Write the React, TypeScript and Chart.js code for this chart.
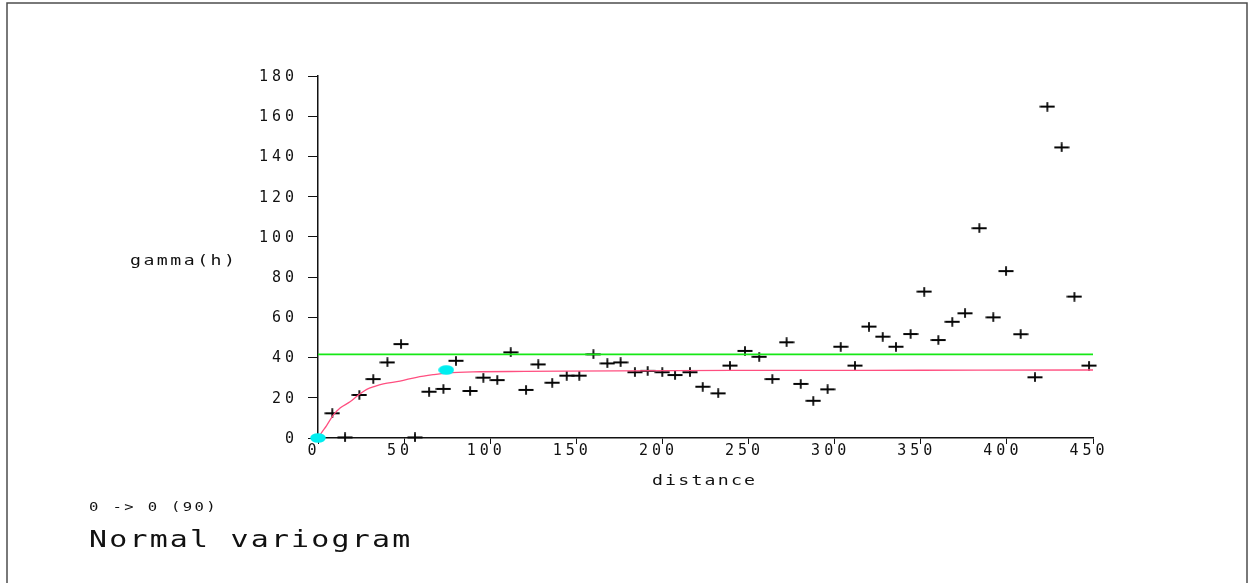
import { useEffect, useRef } from "react";
import { Chart, registerables } from "chart.js";

Chart.register(...registerables);

// Experimental variogram: lag distance and semivariance per lag
const lagDistance = [
  8.3, 15.7, 24.0, 32.1, 40.3, 48.2, 56.3, 64.5, 72.8, 80.1, 88.3, 96.0, 104.1, 111.9,
  120.8, 127.9, 136.0, 144.4, 151.7, 159.9, 168.0, 175.7, 184.0, 191.4, 199.9, 207.3, 216.0, 223.4, 232.4, 239.2,
  247.9, 256.2, 263.8, 272.1, 280.3, 287.6, 295.9, 303.5, 311.8, 319.9, 327.9, 335.6, 344.1, 352.0, 360.2, 368.3,
  375.7, 384.0, 392.1, 399.5, 408.0, 416.3, 423.5, 431.8, 439.2, 447.7,
];
const gammaValues = [
  12.3, 0.3, 21.4, 29.3, 37.6, 46.7, 0.3, 23.0, 24.4, 38.4, 23.4, 30.0, 28.8, 42.6,
  23.9, 36.6, 27.5, 31.0, 31.0, 41.6, 37.1, 37.6, 32.7, 33.4, 32.7, 31.3, 32.7, 25.5, 22.2, 36.0,
  43.3, 40.4, 29.3, 47.6, 26.9, 18.5, 24.2, 45.4, 36.0, 55.4, 50.4, 45.4, 51.7, 72.8, 48.7, 57.8,
  62.0, 104.3, 60.0, 83.0, 51.6, 30.2, 164.8, 144.5, 70.3, 36.0,
];

// Fitted model curve
const modelDistance = [0, 2, 5, 8.9, 13, 18.6, 23, 28.3, 33, 37.9, 47.6, 57.3, 67, 74.7, 90, 120, 174, 250, 350, 450];
const modelGamma = [0, 2.6, 6.2, 11.4, 15.0, 18.0, 21.0, 24.2, 25.7, 26.9, 28.3, 30.2, 31.5, 32.3, 32.9, 33.1, 33.4, 33.6, 33.7, 33.8];

// Sample variance (sill reference line)
const sillDistance = [0, 450];
const sillGamma = [41.6, 41.6];

// Model control points (nugget origin and range)
const controlDistance = [0, 74.5];
const controlGamma = [0, 33.8];

// Axis ticks
const xTickValues = [0, 50, 100, 150, 200, 250, 300, 350, 400, 450];
const yTickValues = [0, 20, 40, 60, 80, 100, 120, 140, 160, 180];

const xAxisLabel = "distance";
const yAxisLabel = "gamma(h)";
const directionLabel = "0 -> 0 (90)";
const plotTitle = "Normal variogram";

const FONT = '"DejaVu Sans Mono", monospace';

function makeCross(): HTMLCanvasElement {
  const c = document.createElement("canvas");
  c.width = 16;
  c.height = 10;
  const g = c.getContext("2d")!;
  g.strokeStyle = "#050505";
  g.lineWidth = 1.8;
  g.beginPath();
  g.moveTo(0.5, 5);
  g.lineTo(15.5, 5);
  g.moveTo(8, 0.3);
  g.lineTo(8, 9.7);
  g.stroke();
  return c;
}

function makeDot(): HTMLCanvasElement {
  const c = document.createElement("canvas");
  c.width = 16;
  c.height = 10;
  const g = c.getContext("2d")!;
  g.fillStyle = "#00eef0";
  g.beginPath();
  g.ellipse(8, 5, 7.8, 4.8, 0, 0, Math.PI * 2);
  g.fill();
  return c;
}

const pairs = (xs: number[], ys: number[]) => xs.map((x, i) => ({ x, y: ys[i] }));

// Draws text in a horizontally widened face with extra tracking
function drawWide(
  ctx: CanvasRenderingContext2D,
  text: string,
  x: number,
  y: number,
  size: number,
  spacing: number,
  stretch: number,
  align: "left" | "center",
  baseline: CanvasTextBaseline
) {
  ctx.save();
  ctx.font = `${size}px ${FONT}`;
  (ctx as any).letterSpacing = `${spacing}px`;
  ctx.textAlign = "left";
  ctx.textBaseline = baseline;
  ctx.translate(x, y);
  ctx.scale(stretch, 1);
  let start = 0;
  if (align === "center") {
    const w = ctx.measureText(text).width - spacing;
    start = -w / 2;
  }
  ctx.fillText(text, start, 0);
  ctx.restore();
}

const decorPlugin = {
  id: "decor",
  beforeDraw(chart: any) {
    chart.ctx.letterSpacing = "4px";
  },
  afterDraw(chart: any) {
    const ctx = chart.ctx as CanvasRenderingContext2D;
    const w = chart.width;
    const h = chart.height;
    const area = chart.chartArea;
    ctx.save();
    // outer frame (open at the bottom)
    ctx.strokeStyle = "#4d4d4d";
    ctx.lineWidth = 1.5;
    ctx.beginPath();
    ctx.moveTo(7, h);
    ctx.lineTo(7, 3);
    ctx.lineTo(w - 2, 3);
    ctx.lineTo(w - 2, h);
    ctx.stroke();

    ctx.fillStyle = "#111";
    drawWide(ctx, xAxisLabel, (area.left + area.right) / 2 - 2, 481, 14, 1.7, 1.3, "center", "middle");
    drawWide(ctx, yAxisLabel, 130, 264.5, 14, 1.9, 1.3, "left", "alphabetic");
    drawWide(ctx, directionLabel, 89, 510.5, 12, 1.8, 1.3, "left", "alphabetic");
    drawWide(ctx, plotTitle, 89, 546.5, 23, 1.7, 1.3, "left", "alphabetic");
    ctx.restore();
  },
};

export default function App() {
  const canvasRef = useRef<HTMLCanvasElement | null>(null);

  useEffect(() => {
    if (!canvasRef.current) return;
    const cross = makeCross();
    const dot = makeDot();

    const chart = new Chart(canvasRef.current, {
      type: "scatter",
      data: {
        datasets: [
          {
            label: "experimental",
            data: pairs(lagDistance, gammaValues),
            pointStyle: cross as any,
            pointRadius: 5,
            showLine: false,
            clip: false as any,
            order: 3,
          },
          {
            label: "model",
            data: pairs(modelDistance, modelGamma),
            showLine: true,
            borderColor: "#ff4f80",
            borderWidth: 1.3,
            pointRadius: 0,
            cubicInterpolationMode: "monotone",
            order: 1,
          },
          {
            label: "sill",
            data: pairs(sillDistance, sillGamma),
            showLine: true,
            borderColor: "#16e816",
            borderWidth: 1.6,
            pointRadius: 0,
            order: 1,
          },
          {
            label: "control",
            data: pairs(controlDistance, controlGamma),
            showLine: false,
            pointStyle: dot as any,
            pointRadius: 5,
            clip: false as any,
            order: 0,
          },
        ],
      },
      options: {
        responsive: false,
        animation: false,
        events: [],
        layout: { padding: { left: 258, top: 76, right: 156, bottom: 85 } },
        plugins: { legend: { display: false }, tooltip: { enabled: false } },
        scales: {
          x: {
            type: "linear",
            min: 0,
            max: 450,
            afterBuildTicks: (s: any) => {
              s.ticks = xTickValues.map((value) => ({ value }));
            },
            afterFit: (s: any) => {
              s.height = 60;
            },
            grid: { drawOnChartArea: false, drawTicks: true, tickLength: 6, color: "#111", lineWidth: 1 },
            border: { display: true, color: "#111", width: 1.5 },
            ticks: {
              color: "#111",
              padding: 0,
              labelOffset: -4,
              maxRotation: 0,
              autoSkip: false,
              font: { family: FONT, size: 15, lineHeight: 1 },
              callback: (v: any) => String(v),
            },
            title: { display: false },
          },
          y: {
            type: "linear",
            min: 0,
            max: 180,
            afterBuildTicks: (s: any) => {
              s.ticks = yTickValues.map((value) => ({ value }));
            },
            afterFit: (s: any) => {
              s.width = 60;
            },
            grid: { drawOnChartArea: false, drawTicks: true, tickLength: 10, color: "#111", lineWidth: 1 },
            border: { display: true, color: "#111", width: 1.5 },
            ticks: {
              color: "#111",
              padding: 10,
              labelOffset: 1,
              autoSkip: false,
              font: { family: FONT, size: 15, lineHeight: 1 },
              callback: (v: any) => String(v),
            },
          },
        },
      },
      plugins: [decorPlugin],
    });

    return () => chart.destroy();
  }, []);

  return (
    <div style={{ position: "fixed", left: 0, top: 0, width: 1249, height: 583, background: "#fff" }}>
      <canvas ref={canvasRef} width={1249} height={583} style={{ display: "block" }} />
    </div>
  );
}
